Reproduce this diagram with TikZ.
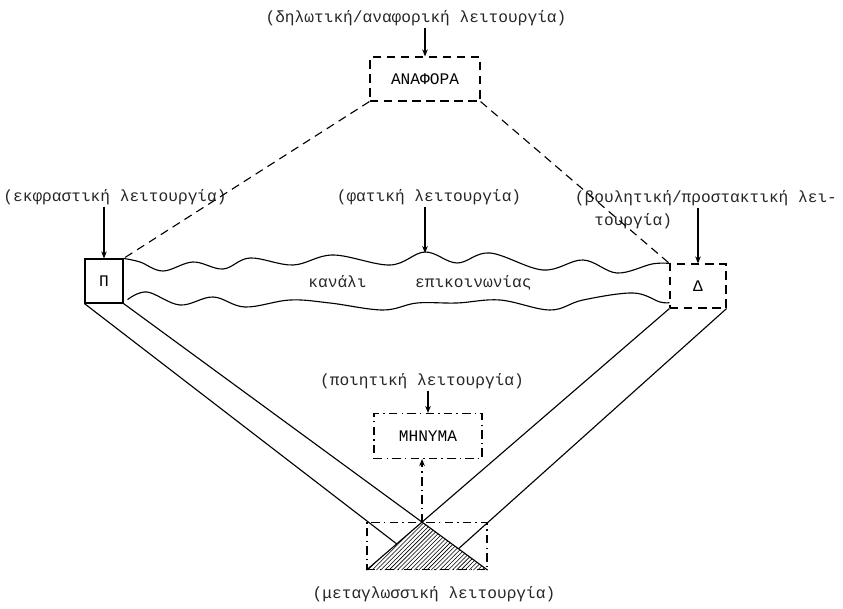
\documentclass[tikz,border=0pt]{standalone}
\usepackage{fontspec}
\setmainfont{Liberation Mono}
\usepackage{xcolor}
\usepackage{tikz}
\usetikzlibrary{arrows.meta, calc, patterns}
\definecolor{inkgray}{HTML}{262626}

\begin{document}
\begin{tikzpicture}[>={Stealth[length=5pt, width=4pt]}, x=0.025cm, y=-0.025cm,
    font=\fontsize{11.5}{17}\selectfont, line width=0.8pt,
    lbl/.style={inner sep=1pt, text=inkgray},
    fbox/.style={draw, minimum height=1.1cm, inner sep=0pt},
    ldash/.style={dash pattern=on 6pt off 4pt},
    ldot/.style={dash pattern=on 6pt off 3pt on 1pt off 3pt}]
    \useasboundingbox (0,0) rectangle (843,609);

    % ── Anafora (top) ─────────────────────────────────────────────────
    \node[lbl] (reflab) at (416,18) {(δηλωτική/αναφορική λειτουργία)};
    \node[fbox, ldash, minimum width=2.75cm] (anaf) at (425,79) {ΑΝΑΦΟΡΑ};
    \draw[->] (reflab.south -| anaf) -- (anaf.north);

    % ── Pompos / Dektis ───────────────────────────────────────────────
    \node[lbl] (exlab) at (115,197) {(εκφραστική λειτουργία)};
    \node[fbox, minimum width=0.95cm] (pi) at (104,281) {Π};
    \draw[->] (exlab.south -| pi) -- (pi.north);

    \node[lbl, align=left, anchor=north west] (conlab) at (573,188)
        {(βουλητική/προστακτική λει-\\\hspace*{1.2em}τουργία)};
    \node[fbox, ldash, minimum width=1.4cm] (delta) at (698,286) {Δ};
    \coordinate (contop) at (698,208);
    \draw[->] (delta.north |- contop) -- (delta.north);

    \draw[ldash] (anaf.south west) -- (pi.north east);
    \draw[ldash] (anaf.south east) -- (delta.north west);

    % ── Kanali ────────────────────────────────────────────────────────
    \node[lbl] (phlab) at (429,197) {(φατική λειτουργία)};
    \coordinate (chan) at (425,253);
    \draw[->] (phlab.south -| chan) -- (chan);
    \draw plot[smooth, tension=0.6] coordinates {(pi.north east) (140,262) (163,271)
        (193,262) (223,269) (250,258) (293,265) (333,255) (390,265) (425,252)
        (457,263) (490,253) (543,270) (583,260) (617,273) (652,264) (delta.north west)};
    \draw plot[smooth, tension=0.6] coordinates {($(pi.south east)+(4,-4)$) (147,292)
        (180,305) (213,297) (245,307) (290,300) (330,303) (383,310) (417,303)
        (457,303) (500,300) (550,310) (583,300) (633,293) (660,302)
        ($(delta.south west)+(0,-6)$)};
    \node[lbl] (chanlab) at (420,283) {κανάλι\hspace{3em}επικοινωνίας};

    % ── Minyma ────────────────────────────────────────────────────────
    \node[lbl] (poilab) at (422,381) {(ποιητική λειτουργία)};
    \node[fbox, ldot, minimum width=2.7cm, minimum height=1.125cm] (mhn) at (428,436) {ΜΗΝΥΜΑ};
    \draw[->] (poilab.south -| mhn) -- (mhn.north);

    % ── Kodikas (bottom) ──────────────────────────────────────────────
    \node[fbox, ldot, minimum width=3cm, minimum height=1.175cm] (bot) at (427,546) {};
    \coordinate (apex) at (intersection of pi.south east--bot.south east and delta.south west--bot.south west);
    \coordinate (lcross) at ($(delta.south west)!0.9!(bot.south west)$);
    \coordinate (rcross) at ($(pi.south east)!0.92!(bot.south east)$);
    \fill[pattern=north east lines] (apex) -- (bot.south west) -- (bot.south east) -- cycle;
    \draw (pi.south east) -- (bot.south east);
    \draw (delta.south west) -- (bot.south west);
    \draw (pi.south west) -- (lcross);
    \draw (delta.south east) -- (rcross);
    \draw[->, ldot] (apex) -- (apex |- mhn.south);
    \node[lbl] (metlab) at (434,594) {(μεταγλωσσική λειτουργία)};
\end{tikzpicture}
\end{document}
